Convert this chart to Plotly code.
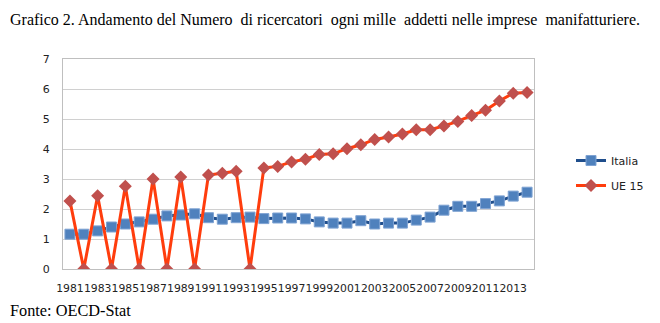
import plotly.graph_objects as go

years = list(range(1981, 2015))
italia = [1.16, 1.16, 1.27, 1.40, 1.50, 1.57, 1.66, 1.77, 1.80, 1.84,
          1.71, 1.66, 1.71, 1.73, 1.68, 1.70, 1.70, 1.67, 1.57, 1.53,
          1.53, 1.61, 1.50, 1.53, 1.53, 1.63, 1.73, 1.96, 2.09, 2.09,
          2.18, 2.27, 2.43, 2.56]
ue15 = [2.27, 0, 2.44, 0, 2.76, 0, 3.00, 0, 3.07, 0,
        3.13, 3.19, 3.26, 0, 3.37, 3.42, 3.57, 3.66, 3.82, 3.84,
        4.01, 4.14, 4.32, 4.40, 4.50, 4.64, 4.64, 4.77, 4.92, 5.12,
        5.29, 5.60, 5.86, 5.88]
tick_years = years[::2]
tick_text = [str(y) for y in tick_years]
y_ticks = [0, 1, 2, 3, 4, 5, 6, 7]

title_text = ("Grafico 2. Andamento del Numero\u00a0 di ricercatori\u00a0 ogni mille\u00a0 "
              "addetti nelle imprese\u00a0 manifatturiere.")
source_text = "Fonte: OECD-Stat"

fig = go.Figure()
fig.add_trace(go.Scatter(
    x=years, y=italia, name="Italia", mode="lines+markers", legendgroup="a",
    line=dict(color="#1F4E8C", width=3),
    marker=dict(symbol="square", size=10, color="#4F81BD",
                line=dict(color="#7FA3D3", width=1)),
))
fig.add_trace(go.Scatter(
    x=years, y=ue15, name="UE 15", mode="lines+markers", legendgroup="b",
    line=dict(color="#FF3D0D", width=3),
    marker=dict(symbol="diamond", size=10, color="#C0504D",
                line=dict(color="#C0504D", width=0)),
))

W, H = 660, 323
L, R, T, B = 63, 125, 59, 54
pw = W - L - R
ph = H - T - B

def px_x(p):
    return (p - L) / pw

def px_y(p):
    return (H - B - p) / ph

fig.update_layout(
    width=W, height=H,
    margin=dict(l=L, r=R, t=T, b=B),
    paper_bgcolor="white", plot_bgcolor="white",
    font=dict(family="DejaVu Sans", size=11, color="#222222"),
    showlegend=True,
    legend=dict(x=px_x(571), y=px_y(173), xanchor="left", yanchor="middle",
                font=dict(family="DejaVu Sans", size=11, color="#222222"),
                traceorder="grouped", tracegroupgap=6,
                bgcolor="rgba(0,0,0,0)", itemwidth=30),
    xaxis=dict(range=[1980.5, 2014.5], tickmode="array", tickvals=tick_years,
               ticktext=tick_text, tickangle=0, showgrid=False,
               showline=True, linecolor="#BFBFBF", linewidth=1, mirror=True,
               ticks="", ticklabelstandoff=9,
               tickfont=dict(family="DejaVu Sans", size=10.8, color="#222222"),
               zeroline=False, fixedrange=True),
    yaxis=dict(range=[0, 7], tickmode="array", tickvals=y_ticks,
               showgrid=True, gridcolor="#D0D0D0", gridwidth=1,
               showline=True, linecolor="#BFBFBF", linewidth=1, mirror=True,
               ticks="", ticklabelstandoff=10,
               tickfont=dict(family="DejaVu Sans", size=11, color="#222222"),
               zeroline=False, fixedrange=True),
    annotations=[
        dict(text=title_text, x=px_x(8), y=px_y(20), xref="paper", yref="paper",
             xanchor="left", yanchor="middle", showarrow=False,
             font=dict(family="Liberation Serif", size=16, color="black")),
        dict(text=source_text, x=px_x(8), y=px_y(310), xref="paper", yref="paper",
             xanchor="left", yanchor="middle", showarrow=False,
             font=dict(family="Liberation Serif", size=16.3, color="black")),
    ],
)

fig.write_html("out.html")
